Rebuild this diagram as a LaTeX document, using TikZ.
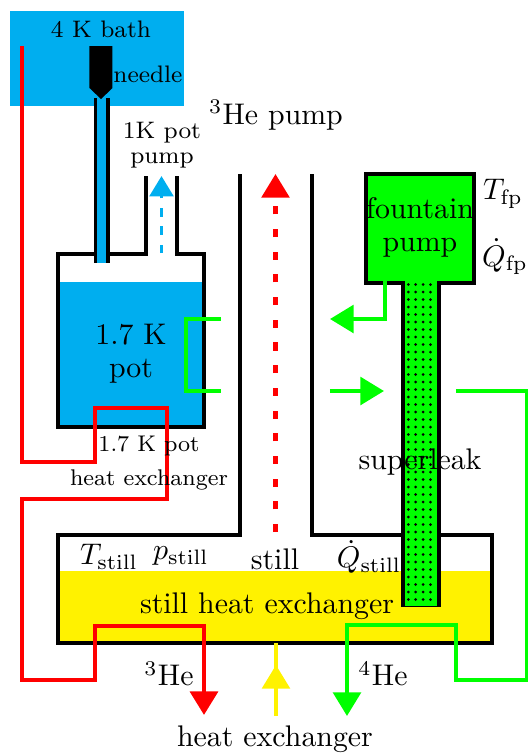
\documentclass[tikz,border=0pt]{standalone}
\usetikzlibrary{arrows.meta}
\definecolor{bathblue}{HTML}{00AEEF}
\definecolor{stillyellow}{HTML}{FFF200}
\definecolor{heliumgreen}{HTML}{00FF00}
\tikzset{
    wall/.style={line width=1.15pt,line join=miter},
    thinwall/.style={line width=1.05pt,line join=miter},
    pipe/.style={line width=1.4pt,line join=miter},
    redpipe/.style={red,line width=1.65pt,line join=miter},
    bigtip/.style={-{Triangle[width=9.2pt,length=7.9pt]}},
    smalllabel/.style={font=\footnotesize,inner sep=0pt,align=center},
    exchangerlabel/.style={font=\fontsize{7.6}{9}\selectfont,inner sep=0pt,align=center},
    label/.style={inner sep=0pt,align=center},
}
\begin{document}
\begin{tikzpicture}[x=0.335pt,y=-0.335pt]
            \useasboundingbox (0,0) rectangle (528,755);
            % fills
            \fill[bathblue] (10,11) rectangle (184,106);
            \fill[bathblue] (58,282) rectangle (204,427);
            \fill[stillyellow] (58,571) rectangle (492,643);
            % 1K pot and its pump line
            \draw[thinwall] (146,176) -- (146,254) -- (58,254) -- (58,427) -- (204,427) -- (204,254) -- (177,254) -- (177,176);
            \draw[bathblue,line width=1.2pt,dash pattern=on 2.8pt off 3.3pt,-{Triangle[width=7.9pt,length=6.8pt]}] (161.5,253) -- (161.5,176);
            % needle
            \fill[bathblue] (95,98) rectangle (108,263);
            \draw[thinwall] (95.5,98) -- (95.5,263);
            \draw[thinwall] (108,98) -- (108,263);
            \fill[black] (89.5,46) -- (112.5,46) -- (112.5,88) -- (101,99) -- (89.5,88) -- cycle;
            % still
            \draw[wall] (240,174) -- (240,535) -- (58,535) -- (58,643) -- (492,643) -- (492,535) -- (312,535) -- (312,174);
            % fountain pump and superleak
            \draw[wall,fill=heliumgreen] (366,174) rectangle (474,283);
            \fill[heliumgreen] (403,281) rectangle (439,606);
            \foreach \row in {0,...,42}
                \foreach \col in {0,...,3}
                    \fill[black] (408.3+7.4*\col,284.5+7.5*\row) circle (0.5pt);
            \draw[wall] (403,281) -- (403,606);
            \draw[wall] (439,281) -- (439,606);
            \draw[line width=0.4pt] (401,606.5) -- (441,606.5);
            % red 3He line
            \draw[redpipe,bigtip] (22,46) -- (22,462) -- (95,462) -- (95,408) -- (167,408) -- (167,499) -- (22,499) -- (22,680) -- (95,680) -- (95,626) -- (204,626) -- (204,715);
            \draw[red,line width=1.4pt,dash pattern=on 2.7pt off 4.9pt,bigtip] (275.5,532) -- (275.5,174);
            % green 4He line
            \draw[heliumgreen,pipe] (221,319) -- (186,319) -- (186,391) -- (221,391);
            \draw[heliumgreen,pipe,bigtip] (385,281) -- (385,319) -- (330,319);
            \draw[heliumgreen,pipe,bigtip] (330,391) -- (384,391);
            \draw[heliumgreen,pipe,bigtip] (456,391) -- (527,391) -- (527,680) -- (456,680) -- (456,625) -- (347,625) -- (347,716);
            % yellow heat exchanger line
            \draw[stillyellow,pipe,bigtip] (276,716) -- (276,665);
            \draw[stillyellow,pipe] (276,680) -- (276,643);
            % labels
            \node[smalllabel] (bath) at (101,29) {4 K bath};
            \node[smalllabel] (needle) at (148,74) {needle};
            \node[label] (hepump) at (276,115) {$^3$He pump};
            \node[smalllabel] (potpump) at (162,145) {1K pot\\[-1pt]pump};
            \node[label] (pot) at (131,354) {1.7 K\\[-1pt]pot};
            \node[exchangerlabel] (potlabel) at (149,446) {1.7 K pot};
            \node[exchangerlabel] (potexchanger) at (149,480) {heat exchanger};
            \node[label] (fountain) at (420,227) {fountain\\[-1pt]pump};
            \node[label] (tfp) at (503,194) {$T_{\mathrm{fp}}$};
            \node[label] (qfp) at (505,257) {$\dot{Q}_{\mathrm{fp}}$};
            \node[label] (superleak) at (420,462) {superleak};
            \node[label] (tstill) at (109,557) {$T_{\mathrm{still}}$};
            \node[label] (pstill) at (181,556) {$p_{\mathrm{still}}$};
            \node[label] (still) at (275,559) {still};
            \node[label] (qstill) at (369,557) {$\dot{Q}_{\mathrm{still}}$};
            \node[label] (stillexchanger) at (267,606) {still heat exchanger};
            \node[label] (hethree) at (169,674) {$^3$He};
            \node[label] (hefour) at (383,674) {$^4$He};
            \node[label] (exchanger) at (275,739) {heat exchanger};
        \end{tikzpicture}
\end{document}
